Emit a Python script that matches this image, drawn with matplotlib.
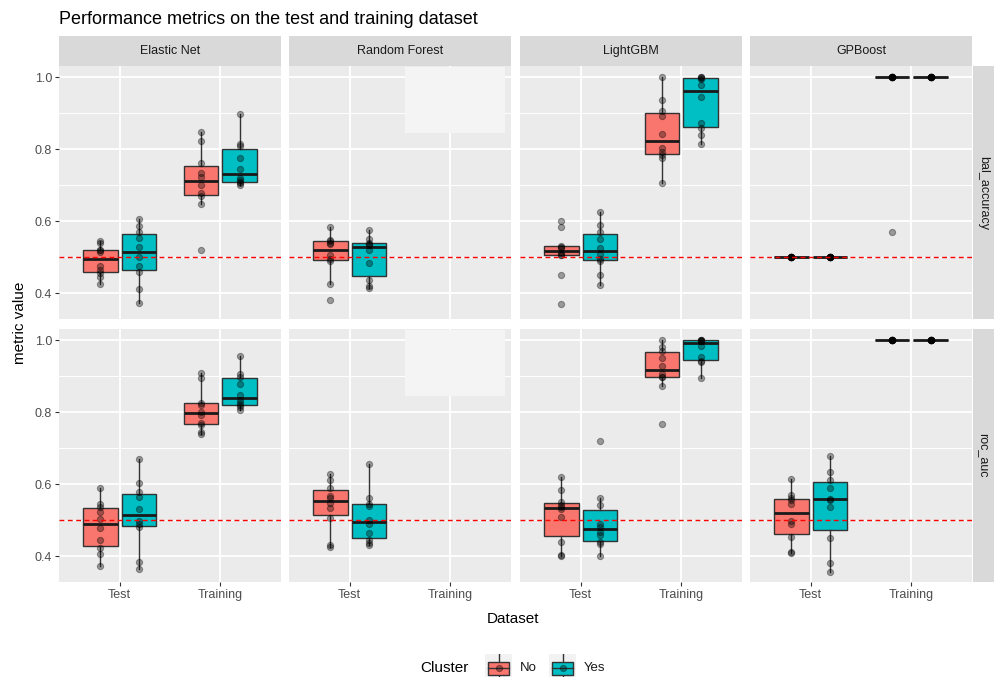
import matplotlib
matplotlib.use("Agg")
import matplotlib.pyplot as plt
from matplotlib.patches import Rectangle
from matplotlib.lines import Line2D

plt.rcParams['font.family'] = ['Liberation Sans', 'DejaVu Sans']

# categories
models = ["Elastic Net", "Random Forest", "LightGBM", "GPBoost"]
metrics = ["bal_accuracy", "roc_auc"]
datasets = ["Test", "Training"]
clusters = ["No", "Yes"]
cluster_colors = ["#F8766D", "#00BFC4"]

# bal_accuracy values (10 folds each)
en_bal_test_no = [0.426, 0.446, 0.456, 0.465, 0.474, 0.515, 0.520, 0.520, 0.539, 0.545]
en_bal_test_yes = [0.373, 0.411, 0.459, 0.476, 0.501, 0.527, 0.553, 0.569, 0.586, 0.606]
en_bal_train_no = [0.520, 0.648, 0.669, 0.678, 0.701, 0.722, 0.733, 0.761, 0.823, 0.847]
en_bal_train_yes = [0.701, 0.705, 0.708, 0.713, 0.719, 0.745, 0.774, 0.810, 0.815, 0.897]
rf_bal_test_no = [0.380, 0.426, 0.490, 0.494, 0.506, 0.536, 0.540, 0.545, 0.548, 0.585]
rf_bal_test_yes = [0.413, 0.420, 0.435, 0.483, 0.520, 0.534, 0.536, 0.539, 0.550, 0.575]
rf_bal_train_no = []
rf_bal_train_yes = []
lgb_bal_test_no = [0.371, 0.450, 0.505, 0.507, 0.511, 0.525, 0.528, 0.531, 0.585, 0.601]
lgb_bal_test_yes = [0.422, 0.450, 0.490, 0.495, 0.510, 0.526, 0.550, 0.570, 0.590, 0.625]
lgb_bal_train_no = [0.707, 0.774, 0.784, 0.791, 0.803, 0.841, 0.892, 0.905, 0.936, 1.0]
lgb_bal_train_yes = [0.814, 0.839, 0.858, 0.874, 0.946, 0.977, 0.995, 0.998, 1.0, 1.0]
gpb_bal_test_no = [0.5, 0.5, 0.5, 0.5, 0.5, 0.5, 0.5, 0.5, 0.5, 0.5]
gpb_bal_test_yes = [0.5, 0.5, 0.5, 0.5, 0.5, 0.5, 0.5, 0.5, 0.5, 0.5]
gpb_bal_train_no = [0.571, 1.0, 1.0, 1.0, 1.0, 1.0, 1.0, 1.0, 1.0, 1.0]
gpb_bal_train_yes = [1.0, 1.0, 1.0, 1.0, 1.0, 1.0, 1.0, 1.0, 1.0, 1.0]

# roc_auc values
en_roc_test_no = [0.373, 0.406, 0.423, 0.446, 0.477, 0.502, 0.523, 0.537, 0.544, 0.588]
en_roc_test_yes = [0.363, 0.383, 0.481, 0.489, 0.497, 0.532, 0.563, 0.577, 0.603, 0.669]
en_roc_train_no = [0.739, 0.745, 0.765, 0.769, 0.792, 0.801, 0.820, 0.826, 0.895, 0.909]
en_roc_train_yes = [0.806, 0.815, 0.819, 0.826, 0.833, 0.847, 0.879, 0.899, 0.905, 0.956]
rf_roc_test_no = [0.425, 0.431, 0.507, 0.533, 0.547, 0.561, 0.568, 0.588, 0.611, 0.628]
rf_roc_test_yes = [0.431, 0.437, 0.445, 0.463, 0.489, 0.501, 0.538, 0.546, 0.562, 0.655]
rf_roc_train_no = []
rf_roc_train_yes = []
lgb_roc_test_no = [0.401, 0.404, 0.440, 0.508, 0.531, 0.537, 0.542, 0.551, 0.585, 0.619]
lgb_roc_test_yes = [0.401, 0.433, 0.438, 0.458, 0.467, 0.481, 0.489, 0.542, 0.562, 0.721]
lgb_roc_train_no = [0.768, 0.873, 0.897, 0.898, 0.907, 0.927, 0.951, 0.971, 0.981, 1.0]
lgb_roc_train_yes = [0.896, 0.940, 0.942, 0.954, 0.985, 0.997, 0.998, 1.0, 1.0, 1.0]
gpb_roc_test_no = [0.408, 0.410, 0.453, 0.489, 0.497, 0.544, 0.556, 0.561, 0.569, 0.615]
gpb_roc_test_yes = [0.356, 0.380, 0.451, 0.537, 0.555, 0.560, 0.588, 0.611, 0.634, 0.679]
gpb_roc_train_no = [1.0, 1.0, 1.0, 1.0, 1.0, 1.0, 1.0, 1.0, 1.0, 1.0]
gpb_roc_train_yes = [1.0, 1.0, 1.0, 1.0, 1.0, 1.0, 1.0, 1.0, 1.0, 1.0]

data = {
    ("bal_accuracy", "Elastic Net"): [[en_bal_test_no, en_bal_test_yes], [en_bal_train_no, en_bal_train_yes]],
    ("bal_accuracy", "Random Forest"): [[rf_bal_test_no, rf_bal_test_yes], [rf_bal_train_no, rf_bal_train_yes]],
    ("bal_accuracy", "LightGBM"): [[lgb_bal_test_no, lgb_bal_test_yes], [lgb_bal_train_no, lgb_bal_train_yes]],
    ("bal_accuracy", "GPBoost"): [[gpb_bal_test_no, gpb_bal_test_yes], [gpb_bal_train_no, gpb_bal_train_yes]],
    ("roc_auc", "Elastic Net"): [[en_roc_test_no, en_roc_test_yes], [en_roc_train_no, en_roc_train_yes]],
    ("roc_auc", "Random Forest"): [[rf_roc_test_no, rf_roc_test_yes], [rf_roc_train_no, rf_roc_train_yes]],
    ("roc_auc", "LightGBM"): [[lgb_roc_test_no, lgb_roc_test_yes], [lgb_roc_train_no, lgb_roc_train_yes]],
    ("roc_auc", "GPBoost"): [[gpb_roc_test_no, gpb_roc_test_yes], [gpb_roc_train_no, gpb_roc_train_yes]],
}

W, H = 994, 677
fig = plt.figure(figsize=(W / 100, H / 100), dpi=100)
fig.patch.set_facecolor("white")


def px_axes(x0, y0, w, h):
    return fig.add_axes([x0 / W, 1 - (y0 + h) / H, w / W, h / H])


panel_left = [59, 289, 520, 750]
panel_w = 222
row_top = [66, 329]
panel_h = 253
dodge = 0.19
box_w = 0.34
txt_col = "#4D4D4D"
pt_size = 20

for r, metric in enumerate(metrics):
    for c, model in enumerate(models):
        ax = px_axes(panel_left[c], row_top[r], panel_w, panel_h)
        ax.set_facecolor("#EBEBEB")
        for s in ax.spines.values():
            s.set_visible(False)
        ax.set_xlim(0.4, 2.6)
        ax.set_ylim(0.328, 1.031)
        ax.set_yticks([0.4, 0.6, 0.8, 1.0])
        ax.set_yticks([0.5, 0.7, 0.9], minor=True)
        ax.set_xticks([1, 2])
        ax.grid(True, which="major", color="white", lw=1.3)
        ax.grid(True, which="minor", axis="y", color="white", lw=0.7)
        ax.set_axisbelow(True)
        ax.tick_params(which="minor", length=0)
        ax.tick_params(which="major", length=3, color="#333333", width=0.8,
                       labelsize=9, labelcolor=txt_col, pad=2)
        if c == 0:
            ax.set_yticklabels(["0.4", "0.6", "0.8", "1.0"])
        else:
            ax.tick_params(axis="y", length=0, labelleft=False)
        if r == 1:
            ax.set_xticklabels(datasets)
        else:
            ax.tick_params(axis="x", length=0, labelbottom=False)

        groups = data[(metric, model)]
        for d in range(len(datasets)):
            for k in range(len(clusters)):
                vals = groups[d][k]
                if len(vals) == 0:
                    continue
                pos = d + 1 + (k - 0.5) * 2 * dodge
                ax.boxplot([vals], positions=[pos], widths=box_w, patch_artist=True,
                           showfliers=False, showcaps=False, whis=1.5, manage_ticks=False,
                           medianprops=dict(color="#1A1A1A", lw=2),
                           boxprops=dict(facecolor=cluster_colors[k], edgecolor="#333333", lw=1),
                           whiskerprops=dict(color="#333333", lw=1), zorder=2)
                ax.scatter([pos] * len(vals), vals, s=pt_size, color="black", alpha=0.35,
                           linewidths=0.8, zorder=3)

        ax.axhline(0.5, color="red", ls=(0, (3.5, 2.5)), lw=1, zorder=4)

        if model == "Random Forest":
            ax.add_patch(Rectangle((0.523, 0.735), 0.45, 0.261, transform=ax.transAxes,
                                   facecolor="#F4F4F4", edgecolor="none", zorder=5))

        # top strip
        if r == 0:
            sax = px_axes(panel_left[c], 36, panel_w, 30)
            sax.set_facecolor("#D9D9D9")
            sax.set_xticks([])
            sax.set_yticks([])
            for s in sax.spines.values():
                s.set_visible(False)
            sax.text(0.5, 0.5, model, ha="center", va="center", fontsize=9,
                     color="#1A1A1A", transform=sax.transAxes)

    # right strip
    rax = px_axes(973, row_top[r], 21, panel_h)
    rax.set_facecolor("#D9D9D9")
    rax.set_xticks([])
    rax.set_yticks([])
    for s in rax.spines.values():
        s.set_visible(False)
    rax.text(0.5, 0.5, metric, ha="center", va="center", rotation=-90, fontsize=9,
             color="#1A1A1A", transform=rax.transAxes)

fig.text(59 / W, 1 - 19 / H, "Performance metrics on the test and training dataset",
         fontsize=13, color="black", ha="left", va="center")
fig.text(513 / W, 1 - 619 / H, "Dataset", fontsize=11, ha="center", va="center")
fig.text(20 / W, 1 - 323 / H, "metric value", fontsize=11, ha="center", va="center",
         rotation=90)

# legend
fig.text(420 / W, 1 - 668 / H, "Cluster", fontsize=11, ha="left", va="center")
key_x = [485, 549]
for k, lab in enumerate(clusters):
    kax = px_axes(key_x[k], 654, 27, 26)
    kax.set_xlim(0, 1)
    kax.set_ylim(0, 1)
    kax.set_facecolor("#F2F2F2")
    kax.set_xticks([])
    kax.set_yticks([])
    for s in kax.spines.values():
        s.set_visible(False)
    kax.add_line(Line2D([0.5, 0.5], [0, 1], color="#333333", lw=1, zorder=1))
    kax.add_patch(Rectangle((0.12, 0.2), 0.76, 0.5, facecolor=cluster_colors[k],
                            edgecolor="#333333", lw=1, zorder=2))
    kax.add_line(Line2D([0.12, 0.88], [0.45, 0.45], color="#333333", lw=1, zorder=3))
    kax.scatter([0.5], [0.45], s=pt_size, color="black", alpha=0.35, linewidths=0.8, zorder=4)
    fig.text((key_x[k] + 35) / W, 1 - 668 / H, lab, fontsize=9.5, ha="left", va="center",
             color="#1A1A1A")

fig.savefig("out.png", dpi=100)
